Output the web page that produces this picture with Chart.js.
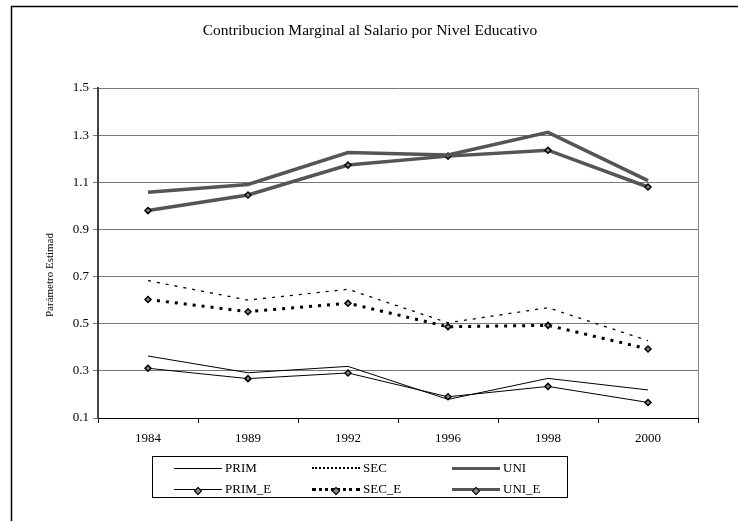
<!DOCTYPE html>
<html>
<head>
<meta charset="utf-8">
<script src="https://cdn.jsdelivr.net/npm/chart.js@4"></script>
<style>
    body { margin: 0; background: #fff; }
    #wrap { position: relative; width: 738px; height: 521px; }
    #legend {
        position: absolute; left: 152px; top: 456px; width: 414px; height: 40px;
        border: 1px solid #000; font: 13px "Liberation Serif", serif; color: #000;
    }
    .item { position: absolute; height: 14px; line-height: 14px; }
    .sample { position: absolute; left: 0; top: 6px; width: 48px; }
    .label { position: absolute; left: 51px; top: 0; white-space: nowrap; }
    .dot {
        position: absolute; left: 21px; top: -3px; width: 4px; height: 4px;
        transform: rotate(45deg); border: 1px solid #000; background: #888;
    }
</style>
</head>
<body>
<div id="wrap">
    <canvas id="chart" width="738" height="521"></canvas>
    <div id="legend"></div>
</div>
<script>
const years = ["1984", "1989", "1992", "1996", "1998", "2000"];
const prim   = [0.363, 0.292, 0.319, 0.179, 0.268, 0.219];
const primE  = [0.311, 0.267, 0.291, 0.190, 0.234, 0.166];
const sec    = [0.683, 0.600, 0.646, 0.504, 0.568, 0.428];
const secE   = [0.603, 0.551, 0.587, 0.487, 0.493, 0.393];
const uni    = [1.058, 1.091, 1.226, 1.216, 1.312, 1.107];
const uniE   = [0.980, 1.046, 1.173, 1.211, 1.236, 1.080];

const serif = "'Liberation Serif', 'DejaVu Serif', serif";

const marker = { pointStyle: "rectRot", pointRadius: 3, pointBackgroundColor: "#888", pointBorderColor: "#000", pointBorderWidth: 1.5 };
const noMarker = { pointRadius: 0 };

const series = [
    { label: "PRIM",   data: prim,  borderColor: "#000", borderWidth: 1, ...noMarker },
    { label: "SEC",    data: sec,   borderColor: "#000", borderWidth: 1.3, borderDash: [3, 6], ...noMarker },
    { label: "UNI",    data: uni,   borderColor: "#555", borderWidth: 3.5, ...noMarker },
    { label: "PRIM_E", data: primE, borderColor: "#000", borderWidth: 1, ...marker },
    { label: "SEC_E",  data: secE,  borderColor: "#000", borderWidth: 3, borderDash: [3, 6], ...marker },
    { label: "UNI_E",  data: uniE,  borderColor: "#555", borderWidth: 3.5, ...marker }
];

// marco exterior, borde derecho del area, titulo y titulo del eje Y
const extras = {
    id: "extras",
    afterDraw(chart) {
        const ctx = chart.ctx, a = chart.chartArea;
        ctx.save();
        ctx.strokeStyle = "#000";
        ctx.lineWidth = 1.5;
        ctx.beginPath();
        ctx.moveTo(11.5, 521); ctx.lineTo(11.5, 6.5); ctx.lineTo(738, 6.5);
        ctx.stroke();
        ctx.strokeStyle = "#888";
        ctx.lineWidth = 1;
        ctx.beginPath();
        ctx.moveTo(Math.round(a.right) + 0.5, a.top); ctx.lineTo(Math.round(a.right) + 0.5, a.bottom);
        ctx.stroke();
        ctx.fillStyle = "#000";
        ctx.textAlign = "center";
        ctx.textBaseline = "middle";
        ctx.font = "15.5px " + serif;
        ctx.fillText("Contribucion Marginal al Salario por Nivel Educativo", 370, 31);
        ctx.translate(50, 275);
        ctx.rotate(-Math.PI / 2);
        ctx.font = "11px " + serif;
        ctx.fillText("Parámetro Estimad", 0, 0);
        ctx.restore();
    }
};

new Chart(document.getElementById("chart"), {
    type: "line",
    data: {
        labels: years,
        datasets: series.map(s => ({ ...s, fill: false, tension: 0, borderJoinStyle: "miter" }))
    },
    options: {
        responsive: false,
        animation: false,
        layout: { padding: { left: 0, right: 40, top: 88, bottom: 0 } },
        plugins: {
            legend: { display: false },
            tooltip: { enabled: false },
            title: { display: false }
        },
        scales: {
            x: {
                offset: true,
                afterFit: s => { s.height = 103; },
                grid: { offset: true, drawOnChartArea: false, tickLength: 5, color: "#000" },
                border: { color: "#000", width: 1 },
                ticks: { color: "#000", padding: 8, font: { family: serif, size: 13 } }
            },
            y: {
                min: 0.1,
                max: 1.5,
                afterFit: s => { s.width = 98; },
                grid: { color: "#777", tickLength: 5, lineWidth: 1 },
                border: { color: "#444", width: 2 },
                ticks: {
                    stepSize: 0.2,
                    color: "#000",
                    padding: 4,
                    font: { family: serif, size: 13 },
                    callback: v => v.toFixed(1)
                }
            }
        }
    },
    plugins: [extras]
});

// leyenda en tres columnas y dos filas
const legend = document.getElementById("legend");
const cols = [21, 159, 299];
series.forEach((s, i) => {
    const item = document.createElement("div");
    item.className = "item";
    item.style.left = cols[i % 3] + "px";
    item.style.top = (i < 3 ? 4 : 25) + "px";
    const line = document.createElement("div");
    line.className = "sample";
    const w = s.borderDash ? Math.max(2, s.borderWidth) : s.borderWidth;
    line.style.borderTop = w + "px " + (s.borderDash ? "dotted" : "solid") + " " + s.borderColor;
    line.style.top = (7 - Math.floor(w / 2)) + "px";
    if (s.pointStyle) {
        const d = document.createElement("div");
        d.className = "dot";
        d.style.top = (-3 - Math.floor(w / 2) + 1) + "px";
        line.appendChild(d);
    }
    const text = document.createElement("span");
    text.className = "label";
    text.textContent = s.label;
    item.appendChild(line);
    item.appendChild(text);
    legend.appendChild(item);
});
</script>
</body>
</html>
